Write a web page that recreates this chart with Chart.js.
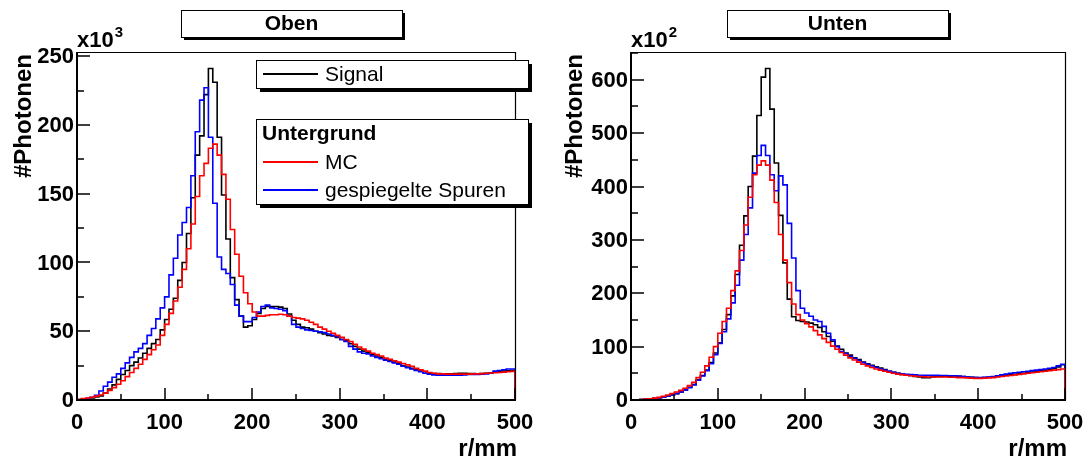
<!DOCTYPE html>
<html>
<head>
<meta charset="utf-8">
<script src="https://cdn.jsdelivr.net/npm/chart.js@4/dist/chart.umd.min.js"></script>
<style>
  body { margin: 0; background: #fff; }
  #wrap { position: relative; width: 1092px; height: 462px; }
  canvas { position: absolute; top: 0; }
  #oben { left: 0; }
  #unten { left: 546px; }
</style>
</head>
<body>
<div id="wrap">
  <canvas id="oben" width="546" height="462"></canvas>
  <canvas id="unten" width="546" height="462"></canvas>
</div>
<script>
// bins: 100 bins of 5 mm from r = 0 to 500 mm
const binWidth = 5;
const rTicks = [0, 100, 200, 300, 400, 500];
const obenTicks = [0, 50, 100, 150, 200, 250];
const untenTicks = [0, 100, 200, 300, 400, 500, 600];

// Oben, values in 10^3 photons
const obenSignal = [
  0.2, 0.5, 0.9, 1.5, 2.2, 3, 5, 8, 11, 15,
  18.5, 21.5, 25, 27.5, 30.5, 34, 37.5, 41, 44, 51,
  58.5, 66, 74, 87, 100, 121, 147, 178, 192, 222,
  241, 231, 191, 149, 117, 89, 73, 61, 53, 54,
  58.5, 63, 66.5, 68, 68, 68, 67.5, 66.5, 62.5, 58,
  55, 53, 52.5, 51.5, 50, 49, 48, 47, 46.5, 45.5,
  44, 43, 41, 39, 37, 35.5, 34.5, 33, 32, 31,
  29.5, 28.5, 27.5, 26.5, 25, 24, 23, 22, 21, 20.5,
  19.5, 19.3, 19.2, 19, 19, 19, 19.2, 19.4, 19.5, 19.3,
  19.2, 19, 19.2, 19.5, 19.8, 20.2, 20.6, 21, 21.3, 21.5
];
const obenMC = [
  0.5, 1, 1.5, 2, 2.8, 3.6, 5, 7, 9, 11.5,
  14, 17, 20, 23, 26, 29.5, 33, 36.5, 40, 47,
  55, 63, 72, 82, 95, 110, 128, 148, 163, 172,
  183, 186, 178, 164, 146, 124, 106, 90, 78, 70,
  64, 61, 61, 61.5, 62, 62, 62.3, 62, 61, 60,
  59.5, 59, 58, 56.5, 55, 53, 51.5, 50, 48.5, 47,
  45.5, 44, 42.5, 40.5, 38.5, 37, 35.5, 34, 33, 32,
  30.5, 29.5, 28.5, 27.5, 26.5, 25.5, 24.5, 23, 22, 21,
  20, 19.5, 19, 19, 18.8, 18.8, 18.8, 18.8, 18.8, 18.8,
  19, 19, 19.2, 19.4, 19.6, 19.8, 20, 20.3, 20.5, 20.8
];
const obenSpuren = [
  0.2, 0.6, 1.2, 2, 3.5, 6.5, 10, 13, 16.5, 19,
  23, 27, 31, 35, 37.5, 41, 47, 52, 59, 67,
  75, 91, 103, 120, 129, 140, 163, 195, 218, 227,
  191, 143, 104, 95, 92, 84, 69, 61, 57, 57,
  60, 64, 68, 69, 67, 66.5, 66, 65, 61, 55,
  53, 52, 51, 50.5, 50, 49.5, 49, 48, 47, 46,
  44, 42.5, 39, 37, 35, 34, 33.5, 32, 31, 30,
  29, 28, 27, 26, 24.5, 23.5, 22.5, 21.5, 20.5, 19.5,
  18.8, 18.3, 18, 18, 18, 18, 18, 18, 18.2, 18.5,
  18.5, 18.5, 18.8, 19, 19.5, 21, 21.5, 22, 22.5, 22.5
];

// Unten, values in 10^2 photons
const untenSignal = [
  0.2, 0.4, 0.8, 1.3, 2, 3, 4.2, 5.5, 7.5, 9.5,
  12, 15, 19, 24, 29, 38, 46, 56, 70, 88,
  107, 132, 160, 195, 235, 290, 345, 400, 457, 533,
  605, 621, 545, 444, 346, 257, 189, 156, 149, 147,
  146, 144, 141, 136, 128, 119, 110, 101, 95, 88,
  84, 79, 76, 71, 68, 65, 62, 60, 57, 54,
  52, 50, 48, 47, 46, 44, 43, 42, 42, 43,
  44, 44, 44.5, 44.5, 45, 44.5, 44, 43, 42.5, 42,
  41.5, 42, 42.5, 43, 44, 45.5, 46.5, 47, 48, 49,
  50, 51, 52.5, 53.5, 55, 56, 57, 59, 62, 66
];
const untenMC = [
  0.3, 0.6, 1, 1.6, 2.4, 3.5, 5, 7, 9.5, 12,
  15, 18, 22, 27, 33, 42, 52, 64, 80, 100,
  125, 147, 172, 205, 242, 280, 328, 380, 422, 440,
  448, 440, 412, 370, 310, 262, 220, 180, 160, 150,
  143, 137, 130, 122, 115, 108, 101, 95, 89, 84,
  79, 75, 71, 67, 64, 61, 58, 56, 54, 52,
  50, 48.5, 47.5, 46.5, 45.5, 44.5, 44, 43.5, 43, 43,
  43, 43, 43, 42.5, 42.5, 42, 42, 41.5, 41, 40.5,
  40.5, 41, 41.5, 42, 43, 44, 45, 46, 47, 48,
  49, 50, 51, 52, 53, 54, 55, 56, 57, 58
];
const untenSpuren = [
  0.2, 0.4, 0.8, 1.2, 1.8, 2.8, 4, 5.5, 7.5, 9.5,
  12, 15, 19, 23, 28, 37, 45, 55, 68, 85,
  106, 128, 152, 182, 215, 262, 310, 360, 425, 458,
  477, 458, 422, 392, 420, 403, 331, 266, 205, 172,
  163, 157, 150, 147, 138, 125, 113, 100, 91, 87,
  82, 78, 74, 70, 67, 64, 61, 58, 56, 54,
  52, 50, 49, 48, 47.5, 47, 46.5, 46.5, 46.5, 46.5,
  46.5, 46, 46, 45.5, 45.5, 45, 44, 43, 42.5, 42,
  42, 42.5, 43, 44, 45.5, 47, 48.5, 50, 51, 52,
  53, 54, 55, 56, 57, 58, 59.5, 61, 64, 67
];

const FONT = '"Liberation Sans", Arial, Helvetica, sans-serif';

// histogram outline: left bin edges, then drop to zero at the last edge
function toSteps(values) {
  const pts = values.map((v, i) => ({ x: i * binWidth, y: v }));
  const end = values.length * binWidth;
  pts.push({ x: end, y: values[values.length - 1] });
  pts.push({ x: end, y: 0 });
  return pts;
}

function shadowBox(ctx, x, y, w, h, sh) {
  ctx.fillStyle = '#000';
  ctx.fillRect(x + sh, y + sh, w, h);
  ctx.fillStyle = '#fff';
  ctx.fillRect(x, y, w, h);
  ctx.strokeStyle = '#000';
  ctx.lineWidth = 1;
  ctx.strokeRect(x + 0.5, y + 0.5, w, h);
}

// ROOT-like pad decoration: frame, inward ticks, labels, title box, legends
function padDecor(cfg) {
  return {
    id: 'padDecor',
    beforeDatasetsDraw(chart) {
      const { ctx, chartArea: a } = chart;
      ctx.save();
      ctx.strokeStyle = '#000';
      ctx.lineWidth = 1.2;
      ctx.beginPath();
      ctx.moveTo(a.left, a.top + 0.5);
      ctx.lineTo(a.right + 0.5, a.top + 0.5);
      ctx.lineTo(a.right + 0.5, a.bottom);
      ctx.stroke();
      ctx.restore();
    },
    afterDraw(chart) {
      const { ctx, chartArea: a } = chart;
      const xs = chart.scales.x, ys = chart.scales.y;
      ctx.save();
      ctx.strokeStyle = '#000';
      ctx.fillStyle = '#000';

      // axis lines
      ctx.lineWidth = 2;
      ctx.beginPath();
      ctx.moveTo(a.left, a.top);
      ctx.lineTo(a.left, a.bottom);
      ctx.lineTo(a.right + 1, a.bottom);
      ctx.stroke();

      // ticks
      ctx.lineWidth = 1.5;
      ctx.beginPath();
      const nY = Math.floor(ys.max / cfg.yMinor + 1e-6);
      for (let i = 0; i <= nY; i++) {
        const v = i * cfg.yMinor;
        const len = (i % 2 === 0) ? 13 : 7;
        const py = Math.round(ys.getPixelForValue(v));
        ctx.moveTo(a.left, py);
        ctx.lineTo(a.left + len, py);
      }
      for (let i = 0; i <= 10; i++) {
        const v = i * 50;
        const len = (i % 2 === 0) ? 12 : 6;
        const px = Math.round(xs.getPixelForValue(v));
        ctx.moveTo(px, a.bottom);
        ctx.lineTo(px, a.bottom - len);
      }
      ctx.stroke();

      // tick labels
      ctx.font = 'bold 22px ' + FONT;
      ctx.textAlign = 'right';
      ctx.textBaseline = 'middle';
      cfg.yTicks.forEach(v => ctx.fillText(String(v), a.left - 3, ys.getPixelForValue(v) + 1));
      ctx.textAlign = 'center';
      rTicks.forEach(v => ctx.fillText(String(v), xs.getPixelForValue(v), a.bottom + 23));

      // axis titles
      ctx.font = 'bold 24px ' + FONT;
      ctx.textAlign = 'right';
      ctx.textBaseline = 'alphabetic';
      ctx.fillText('r/mm', a.right + 2, 456);
      ctx.save();
      ctx.translate(cfg.yTitleX, a.top + 2);
      ctx.rotate(-Math.PI / 2);
      ctx.textBaseline = 'middle';
      ctx.fillText('#Photonen', 0, 0);
      ctx.restore();

      // multiplier x10^n
      ctx.textAlign = 'left';
      ctx.font = 'bold 22px ' + FONT;
      ctx.fillText('x10', a.left, 47);
      const w = ctx.measureText('x10').width;
      ctx.font = 'bold 15px ' + FONT;
      ctx.fillText(cfg.exponent, a.left + w + 1, 37);

      // title box
      const t = cfg.title;
      shadowBox(ctx, t.x, t.y, t.w, t.h, 3);
      ctx.fillStyle = '#000';
      ctx.font = 'bold 21px ' + FONT;
      ctx.textAlign = 'center';
      ctx.textBaseline = 'middle';
      ctx.fillText(t.text, t.x + t.w / 2, t.y + t.h / 2 + 1);

      // legends
      (cfg.legends || []).forEach(lg => {
        shadowBox(ctx, lg.x, lg.y, lg.w, lg.h, 4);
        lg.rows.forEach(r => {
          ctx.textAlign = 'left';
          ctx.textBaseline = 'middle';
          ctx.fillStyle = '#000';
          if (r.color) {
            ctx.strokeStyle = r.color;
            ctx.lineWidth = 2;
            ctx.beginPath();
            ctx.moveTo(lg.x + 7, r.y);
            ctx.lineTo(lg.x + 62, r.y);
            ctx.stroke();
            ctx.font = '21px ' + FONT;
            ctx.fillText(r.text, lg.x + 69, r.y + 1);
          } else {
            ctx.font = 'bold 21px ' + FONT;
            ctx.fillText(r.text, lg.x + 6, r.y + 1);
          }
        });
      });
      ctx.restore();
    }
  };
}

function makePad(id, series, yMax, cfg) {
  return new Chart(document.getElementById(id), {
    type: 'line',
    data: {
      datasets: series.map(s => ({
        label: s.label,
        data: toSteps(s.values),
        borderColor: s.color,
        borderWidth: 1.6,
        stepped: 'before',
        pointRadius: 0,
        fill: false,
        order: s.order
      }))
    },
    options: {
      responsive: false,
      animation: false,
      devicePixelRatio: 1,
      layout: { padding: cfg.padding },
      plugins: { legend: { display: false }, tooltip: { enabled: false } },
      scales: {
        x: { type: 'linear', min: 0, max: 500, display: false },
        y: { type: 'linear', min: 0, max: yMax, display: false }
      }
    },
    plugins: [padDecor(cfg)]
  });
}

makePad('oben', [
  { label: 'Signal', values: obenSignal, color: '#000000', order: 2 },
  { label: 'gespiegelte Spuren', values: obenSpuren, color: '#0000ff', order: 1 },
  { label: 'MC', values: obenMC, color: '#ff0000', order: 0 }
], 253, {
  padding: { left: 77, right: 31, top: 52, bottom: 62 },
  yMinor: 25,
  yTicks: obenTicks,
  yTitleX: 24,
  exponent: '3',
  title: { x: 181, y: 10, w: 221, h: 27, text: 'Oben' },
  legends: [
    { x: 256, y: 60, w: 272, h: 28, rows: [{ text: 'Signal', color: '#000000', y: 74 }] },
    { x: 256, y: 119, w: 272, h: 85, rows: [
      { text: 'Untergrund', y: 133 },
      { text: 'MC', color: '#ff0000', y: 162 },
      { text: 'gespiegelte Spuren', color: '#0000ff', y: 190 }
    ] }
  ]
});

makePad('unten', [
  { label: 'Signal', values: untenSignal, color: '#000000', order: 2 },
  { label: 'gespiegelte Spuren', values: untenSpuren, color: '#0000ff', order: 1 },
  { label: 'MC', values: untenMC, color: '#ff0000', order: 0 }
], 652, {
  padding: { left: 85, right: 27, top: 52, bottom: 62 },
  yMinor: 50,
  yTicks: untenTicks,
  yTitleX: 29,
  exponent: '2',
  title: { x: 181, y: 10, w: 221, h: 27, text: 'Unten' }
});
</script>
</body>
</html>
